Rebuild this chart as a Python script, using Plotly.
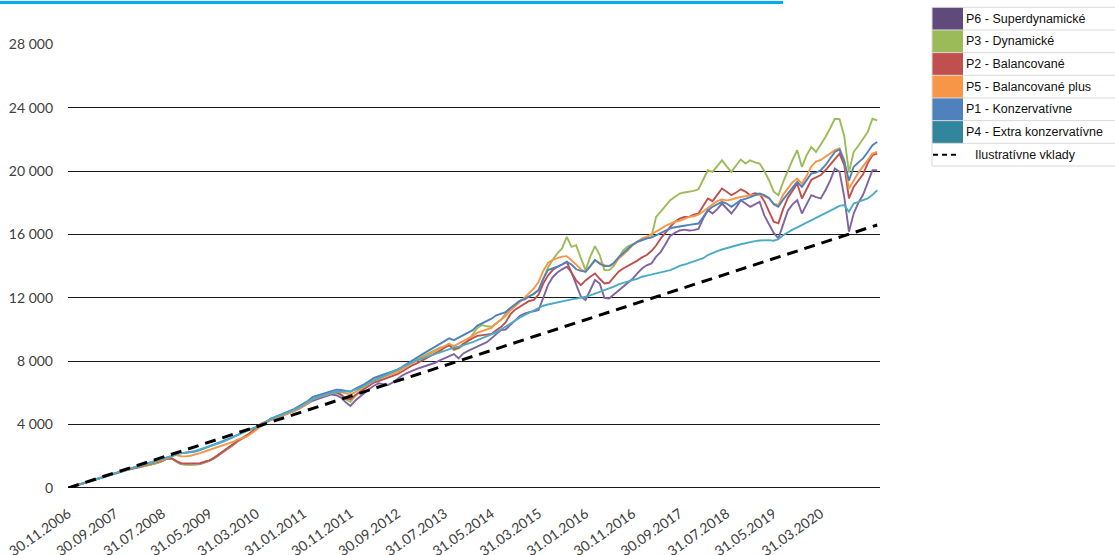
import pandas as pd
import plotly.graph_objects as go

# ---------------- data ----------------
dates = [d.strftime("%d.%m.%Y") for d in
         pd.date_range("2006-11-30", periods=173, freq=pd.offsets.MonthEnd())]
tick_labels = dates[0:161:10]

y_tick_values = [0, 4000, 8000, 12000, 16000, 20000, 24000, 28000]
y_tick_labels = ["0", "4 000", "8 000", "12 000", "16 000", "20 000", "24 000", "28 000"]

p6_superdynamicke = [
    0, 95, 190, 280, 370, 460, 550, 640, 730, 820,
    910, 1000, 1100, 1170, 1230, 1300, 1370, 1440, 1510, 1590,
    1690, 1840, 1870, 1650, 1500, 1480, 1470, 1480, 1500, 1600,
    1700, 1860, 2060, 2260, 2460, 2700, 2930, 3100, 3280, 3500,
    3800, 4000, 4150, 4300, 4420, 4520, 4620, 4720, 4850, 4980,
    5150, 5330, 5500, 5600, 5700, 5800, 5900, 5850, 5700, 5400,
    5170, 5500, 5760, 6000, 6250, 6450, 6600, 6550, 6500, 6650,
    6900, 7100, 7250, 7400, 7500, 7600, 7700, 7760, 7900, 8050,
    8200, 8300, 8450, 8180, 8490, 8650, 8800, 8950, 9050, 9200,
    9440, 9700, 9960, 10000, 10300, 10600, 10850, 11000, 11100, 11150,
    11230, 12000, 12800, 13300, 13600, 13800, 13960, 13600, 12800, 12070,
    11860, 12500, 13120, 12900, 12000, 11960, 12200, 12490, 12700, 12910,
    13200, 13540, 13850, 14050, 14170, 14600, 14900, 15400, 15900, 16100,
    16250, 16300, 16250, 16270, 16350, 17000, 17530, 17320, 17600, 17950,
    17600, 17320, 17700, 18160, 17950, 17740, 17900, 18060, 17200, 16650,
    16100, 15750, 16700, 17500, 17900, 18160, 17320, 17900, 18480, 18350,
    18270, 18790, 19400, 20160, 19950, 18370, 16170, 17320, 18000, 18500,
    19300, 20050, 20050]

p3_dynamicke = [
    0, 95, 185, 275, 365, 455, 545, 635, 725, 815,
    905, 995, 1090, 1160, 1220, 1290, 1360, 1430, 1500, 1580,
    1680, 1830, 1860, 1650, 1500, 1480, 1480, 1500, 1520, 1620,
    1720, 1880, 2080, 2280, 2480, 2720, 2950, 3120, 3300, 3520,
    3820, 4050, 4200, 4330, 4450, 4560, 4660, 4780, 4920, 5060,
    5250, 5450, 5620, 5720, 5820, 5920, 6000, 6000, 5850, 5600,
    5440, 5800, 6100, 6400, 6650, 6850, 7000, 7100, 7200, 7300,
    7400, 7600, 7800, 7980, 8100, 8250, 8400, 8550, 8700, 8850,
    8910, 9100, 8700, 8800, 9000, 9300, 9700, 10100, 10280, 10200,
    10170, 10400, 10600, 11000, 11300, 11550, 11800, 11950, 12070, 12250,
    12490, 13200, 13900, 14400, 14800, 15120, 15850, 15220, 15320, 14500,
    13750, 14600, 15260, 14700, 13750, 13750, 14000, 14500, 15000, 15250,
    15400, 15500, 15640, 15750, 15850, 17110, 17430, 17800, 18160, 18400,
    18580, 18650, 18690, 18750, 18850, 19500, 20050, 19950, 20300, 20680,
    20300, 19950, 20350, 20730, 20480, 20680, 20550, 20480, 20000, 19420,
    18700, 18480, 19300, 20050, 20700, 21320, 20260, 21000, 21520, 21210,
    21650, 22150, 22700, 23300, 23270, 22200, 19900, 21200, 21600, 22000,
    22470, 23300, 23200]

p2_balancovane = [
    0, 95, 190, 280, 375, 465, 560, 650, 740, 830,
    920, 1010, 1110, 1190, 1260, 1330, 1400, 1470, 1550, 1620,
    1720, 1850, 1870, 1700, 1560, 1540, 1540, 1550, 1560, 1650,
    1740, 1900, 2100, 2300, 2500, 2750, 2980, 3150, 3330, 3550,
    3850, 4050, 4180, 4300, 4420, 4550, 4650, 4750, 4880, 5020,
    5200, 5400, 5600, 5700, 5800, 5900, 6000, 6050, 5900, 5650,
    5600, 5850, 6050, 6250, 6450, 6650, 6750, 6850, 6950, 7050,
    7180, 7350, 7550, 7720, 7850, 8000, 8150, 8300, 8450, 8650,
    8850, 9000, 8750, 8850, 9100, 9300, 9450, 9600, 9650, 9680,
    9720, 9950, 10150, 10450, 10950, 11250, 11450, 11650, 11800, 11870,
    12200, 12900, 13400, 13750, 13960, 14100, 14270, 13600, 13100, 12800,
    13100, 13330, 13540, 13200, 12910, 12950, 13300, 13650, 13850, 14000,
    14170, 14350, 14550, 14700, 14950, 15300, 15750, 16150, 16480, 16800,
    17000, 17100, 17110, 17250, 17320, 17800, 18270, 18100, 18500, 18900,
    18700, 18480, 18650, 18850, 18700, 18480, 18600, 18550, 18100, 17450,
    16800, 16700, 17600, 18300, 18800, 19210, 18270, 18900, 19450, 19600,
    19750, 20050, 20400, 20790, 21100, 20370, 18270, 19000, 19400, 19800,
    20500, 21000, 21100]

p5_balancovane_plus = [
    0, 95, 190, 285, 375, 470, 565, 655, 750, 840,
    930, 1025, 1120, 1200, 1280, 1360, 1430, 1510, 1590, 1670,
    1760, 1880, 1980, 2080, 2000, 1990, 2030, 2100, 2200, 2300,
    2400, 2480, 2580, 2680, 2780, 2900, 3050, 3150, 3250, 3450,
    3700, 3900, 4100, 4280, 4400, 4500, 4600, 4720, 4850, 5000,
    5150, 5350, 5600, 5700, 5800, 5900, 6000, 6080, 6050, 5950,
    5900, 6050, 6200, 6400, 6600, 6800, 6880, 7000, 7100, 7200,
    7300, 7450, 7650, 7850, 8000, 8150, 8300, 8450, 8600, 8800,
    8950, 9100, 8950, 9100, 9300, 9450, 9600, 9800, 9900, 10000,
    10100, 10400, 10650, 10850, 11200, 11450, 11750, 12000, 12300, 12600,
    13000, 13700, 14200, 14400, 14500, 14600, 14630, 14380, 14100, 13800,
    13640, 14000, 14380, 14200, 14060, 14000, 14100, 14450, 14700, 15000,
    15320, 15550, 15750, 15850, 16000, 16200, 16350, 16550, 16690, 16800,
    16860, 17000, 17110, 17150, 17250, 17450, 17700, 17900, 18100, 18200,
    18150, 18200, 18300, 18370, 18420, 18480, 18500, 18520, 18400, 18270,
    17950, 17850, 18500, 18900, 19300, 19530, 19210, 19700, 20300, 20600,
    20700, 20900, 21100, 21320, 21420, 20700, 18900, 19420, 19900, 20300,
    20700, 21100, 21210]

p1_konzervativne = [
    0, 95, 190, 285, 380, 475, 570, 660, 755, 850,
    940, 1035, 1130, 1220, 1310, 1400, 1480, 1560, 1640, 1720,
    1810, 1900, 2000, 2150, 2180, 2200, 2250, 2300, 2380, 2500,
    2620, 2720, 2830, 2950, 3050, 3200, 3350, 3500, 3620, 3720,
    3830, 3950, 4150, 4380, 4480, 4600, 4720, 4850, 4980, 5150,
    5300, 5500, 5750, 5850, 5950, 6050, 6120, 6200, 6180, 6120,
    6070, 6250, 6390, 6550, 6750, 6950, 7050, 7150, 7250, 7350,
    7460, 7650, 7850, 8020, 8200, 8380, 8550, 8720, 8900, 9050,
    9250, 9440, 9330, 9500, 9650, 9800, 9960, 10250, 10400, 10550,
    10680, 10900, 11020, 11100, 11350, 11550, 11800, 11900, 12070, 12250,
    12490, 13200, 13750, 13850, 13960, 14100, 14270, 14100, 13800, 13700,
    13640, 14000, 14380, 14150, 14000, 14000, 14200, 14550, 14850, 15100,
    15350, 15550, 15650, 15750, 15800, 15950, 16100, 16250, 16380, 16450,
    16480, 16550, 16600, 16650, 16690, 17100, 17530, 17750, 17900, 18060,
    17950, 17740, 17950, 18160, 18250, 18370, 18450, 18580, 18480, 18300,
    17900, 17740, 18200, 18600, 19000, 19320, 19000, 19400, 19850, 19900,
    20050, 20370, 20800, 21210, 21360, 20600, 19400, 20260, 20550, 20800,
    21200, 21630, 21840]

p4_extra_konzervativne = [
    0, 95, 190, 285, 380, 475, 570, 665, 760, 855,
    945, 1040, 1140, 1230, 1320, 1410, 1490, 1570, 1650, 1730,
    1820, 1920, 2000, 2150, 2180, 2220, 2270, 2330, 2420, 2530,
    2620, 2720, 2820, 2930, 3050, 3200, 3330, 3480, 3600, 3720,
    3850, 3980, 4150, 4350, 4450, 4560, 4680, 4800, 4930, 5080,
    5250, 5450, 5620, 5720, 5820, 5920, 6000, 6050, 6070, 6080,
    6100, 6200, 6300, 6450, 6620, 6780, 6900, 7050, 7200, 7350,
    7500, 7650, 7800, 7950, 8050, 8150, 8250, 8350, 8450, 8550,
    8680, 8780, 8850, 8920, 9000, 9100, 9200, 9330, 9450, 9580,
    9700, 9820, 10000, 10200, 10400, 10580, 10750, 10900, 11050, 11250,
    11400, 11500, 11580, 11650, 11720, 11800, 11860, 11900, 11950, 12000,
    12070, 12150, 12250, 12400, 12500, 12600, 12700, 12850, 12950, 13050,
    13120, 13200, 13330, 13400, 13480, 13550, 13620, 13700, 13750, 13880,
    14020, 14100, 14200, 14300, 14380, 14500, 14700, 14850, 14950, 15050,
    15150, 15220, 15300, 15380, 15450, 15530, 15580, 15620, 15640, 15640,
    15600, 15700, 15950, 16150, 16300, 16450, 16600, 16750, 16900, 17000,
    17150, 17300, 17450, 17650, 17800, 17850, 17430, 17950, 18050, 18150,
    18270, 18500, 18790]

# illustrative deposits: straight line, read every 10 months and at the end
deposit_dates = dates[::10] + [dates[-1]]
deposit_values = [0, 965, 1930, 2895, 3860, 4825, 5790, 6755, 7720, 8685,
                  9650, 10615, 11580, 12545, 13510, 14475, 15440, 16405, 16598]

series_names = ["P6 - Superdynamické", "P3 - Dynamické", "P2 - Balancované",
                "P5 - Balancované plus", "P1 - Konzervatívne", "P4 - Extra konzervatívne"]
series_values = [p6_superdynamicke, p3_dynamicke, p2_balancovane,
                 p5_balancovane_plus, p1_konzervativne, p4_extra_konzervativne]
deposit_name = "Ilustratívne vklady"

# ---------------- styles ----------------
line_colors = ["#8064A2", "#9BBB59", "#C0504D", "#F79646", "#4F81BD", "#4BACC6"]
legend_colors = ["#604A7B", "#9BBB59", "#C0504D", "#F79646", "#4F81BD", "#31859C"]

W, H = 1115, 555
L, R, T, B = 68, 880, 44, 488


def px_x(p):
    return (p - L) / (R - L)


def px_y(p):
    return (B - p) / (B - T)


fig = go.Figure()
for name, vals, col in zip(series_names, series_values, line_colors):
    fig.add_trace(go.Scatter(x=dates, y=vals, mode="lines", name=name,
                             line=dict(color=col, width=1.9), hoverinfo="skip"))
fig.add_trace(go.Scatter(x=deposit_dates, y=deposit_values, mode="lines", name=deposit_name,
                         line=dict(color="black", width=3, dash="11px,7px"), hoverinfo="skip"))

shapes = []
annotations = []

# top blue rule
shapes.append(dict(type="line", xref="paper", yref="paper",
                   x0=px_x(0), x1=px_x(783), y0=px_y(2.5), y1=px_y(2.5),
                   line=dict(color="#00B0F0", width=3)))

# custom legend table
row_h = 22.67
top = 7.3
box_l, box_r, right = 932, 963, 1115
grid_col = "#D9D9D9"
labels = series_names + [deposit_name]
for k, lab in enumerate(labels):
    y0 = top + k * row_h
    y1 = y0 + row_h
    if k < len(legend_colors):
        shapes.append(dict(type="rect", xref="paper", yref="paper",
                           x0=px_x(box_l), x1=px_x(box_r), y0=px_y(y1), y1=px_y(y0),
                           fillcolor=legend_colors[k], line=dict(width=0)))
        annotations.append(dict(xref="paper", yref="paper", x=px_x(964), y=px_y((y0 + y1) / 2),
                                text=lab, showarrow=False, xanchor="left", yanchor="middle",
                                font=dict(family="Liberation Sans", size=12.5, color="#111111")))
    else:
        shapes.append(dict(type="line", xref="paper", yref="paper",
                           x0=px_x(933), x1=px_x(958), y0=px_y((y0 + y1) / 2), y1=px_y((y0 + y1) / 2),
                           line=dict(color="black", width=2, dash="5px,4px")))
        annotations.append(dict(xref="paper", yref="paper", x=px_x(973), y=px_y((y0 + y1) / 2),
                                text=lab, showarrow=False, xanchor="left", yanchor="middle",
                                font=dict(family="Liberation Sans", size=12.5, color="#111111")))
for k in range(len(labels) + 1):
    yy = top + k * row_h
    shapes.append(dict(type="line", xref="paper", yref="paper",
                       x0=px_x(box_l), x1=px_x(right), y0=px_y(yy), y1=px_y(yy),
                       line=dict(color=grid_col, width=1)))
shapes.append(dict(type="line", xref="paper", yref="paper",
                   x0=px_x(box_l), x1=px_x(box_l), y0=px_y(top), y1=px_y(top + len(labels) * row_h),
                   line=dict(color=grid_col, width=1)))

fig.update_layout(
    width=W, height=H, autosize=False,
    margin=dict(l=L, r=W - R, t=T, b=H - B, pad=0, autoexpand=False),
    plot_bgcolor="white", paper_bgcolor="white",
    showlegend=False,
    shapes=shapes, annotations=annotations,
    xaxis=dict(type="category", range=[-0.05, 172.6], showgrid=False, automargin=False,
               tickmode="array", tickvals=tick_labels, ticktext=tick_labels,
               tickangle=-35, ticks="", ticklabelstandoff=14,
               tickfont=dict(family="Lato", size=14, color="#404040"),
               showline=False, zeroline=False),
    yaxis=dict(range=[-5, 28020], automargin=False,
               tickmode="array", tickvals=y_tick_values, ticktext=y_tick_labels,
               showgrid=True, gridcolor="#1A1A1A", gridwidth=1,
               zeroline=True, zerolinecolor="#1A1A1A", zerolinewidth=1,
               ticks="", ticklabelstandoff=14, showline=False,
               tickfont=dict(family="Lato", size=14, color="#404040")),
)

fig.write_html("out.html", config={"displayModeBar": False},
               post_script="document.body.style.margin='0';document.body.style.overflow='hidden';")
